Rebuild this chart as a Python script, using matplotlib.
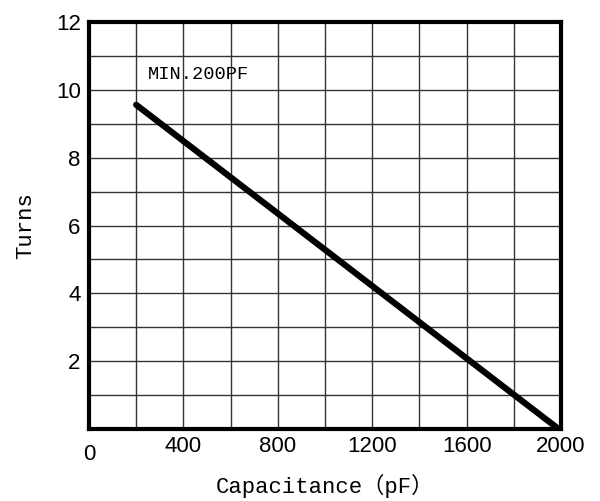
import matplotlib.pyplot as plt
import numpy as np

# values
cap = [200, 1990]
turns = [9.56, 0.0]
xticks = [400, 800, 1200, 1600, 2000]
yticks = [2, 4, 6, 8, 10, 12]
note = 'MIN.200PF'

fig = plt.figure(figsize=(6, 5.01), dpi=100)
ax = fig.add_axes([0.1483, 0.1437, 0.7867, 0.8123])

ax.set_xlim(0, 2000)
ax.set_ylim(0, 12)
ax.set_xticks(np.arange(0, 2001, 200), minor=True)
ax.set_yticks(np.arange(0, 13, 1), minor=True)
ax.grid(which='both', color='#333333', linewidth=1.0)
ax.set_axisbelow(True)

ax.plot(cap, turns, color='black', linewidth=4.5, solid_capstyle='round', zorder=3)

ax.set_xticks(xticks)
ax.set_yticks(yticks)
ax.tick_params(which='both', length=0, labelsize=16)
ax.tick_params(axis='x', pad=5)
ax.tick_params(axis='y', pad=6)
for lab in ax.get_xticklabels() + ax.get_yticklabels():
    lab.set_family('Liberation Sans')
ax.text(0, -0.45, '0', ha='center', va='top', fontsize=16, family='Liberation Sans')

for s in ax.spines.values():
    s.set_linewidth(3)

ax.text(250, 10.45, note, fontsize=13.5, family=['Liberation Mono', 'DejaVu Sans'],
        va='center', ha='left')

ax.set_xlabel('Capacitance（pF）', fontsize=16,
              family=['Liberation Mono', 'Noto Sans CJK JP'], labelpad=12)
ax.set_ylabel('Turns', fontsize=16, family=['Liberation Mono', 'Noto Sans CJK JP'],
              labelpad=14)

fig.savefig('out.png', dpi=100)
